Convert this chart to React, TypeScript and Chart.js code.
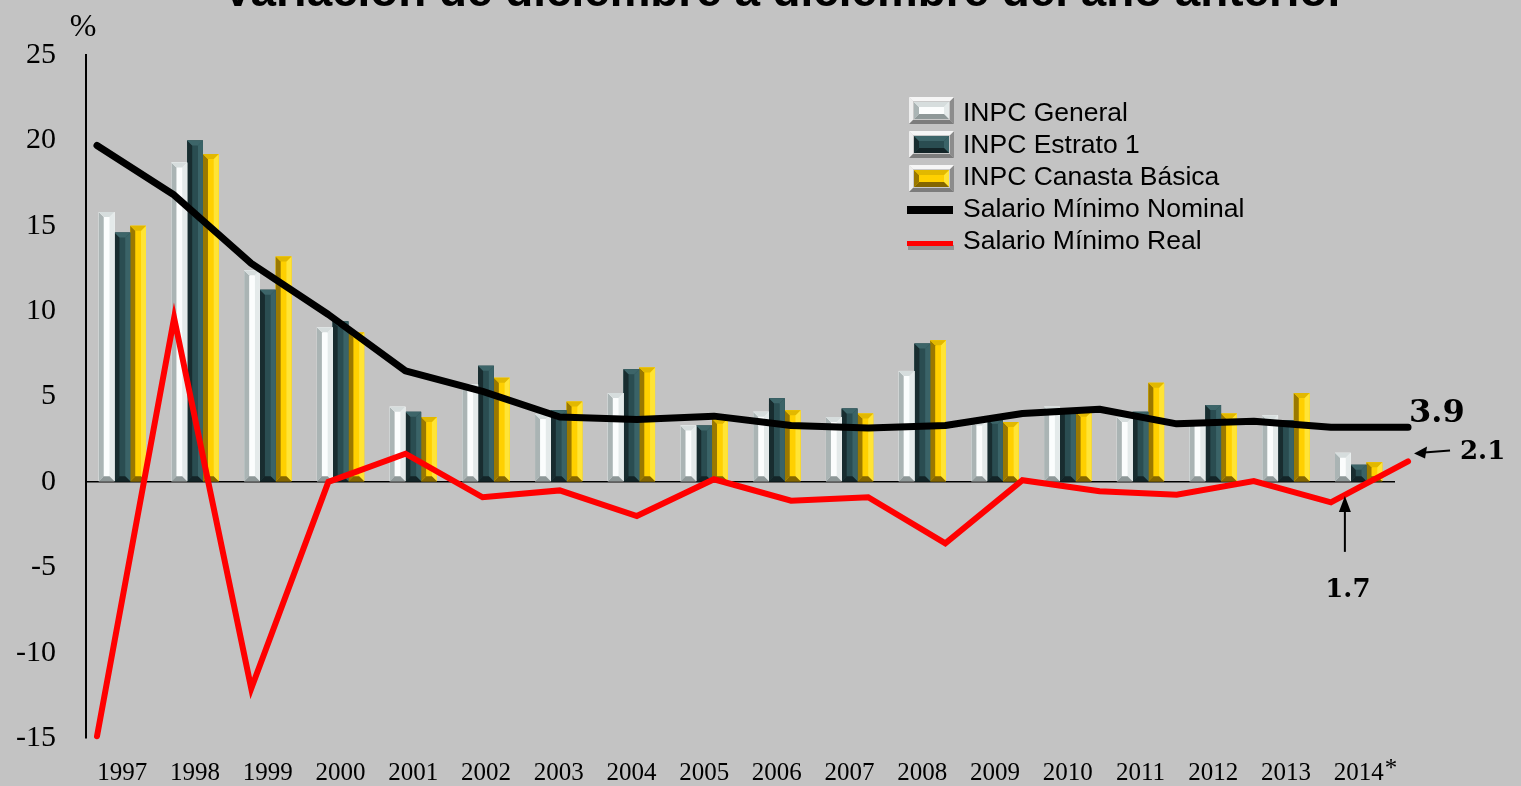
import React, { useEffect, useRef } from "react";
import { Chart, registerables } from "chart.js";

Chart.register(...registerables);

const titleText = "Variación de diciembre a diciembre del año anterior";
const unitLabel = "%";
const categories = ["1997", "1998", "1999", "2000", "2001", "2002", "2003", "2004", "2005", "2006", "2007", "2008", "2009", "2010", "2011", "2012", "2013", "2014"];
const lastLabelMark = "*";
const seriesNames = ["INPC General", "INPC Estrato 1", "INPC Canasta Básica", "Salario Mínimo Nominal", "Salario Mínimo Real"];

const inpcGeneral = [15.8, 18.7, 12.4, 9.05, 4.4, 5.7, 3.98, 5.2, 3.3, 4.1, 3.8, 6.5, 3.6, 4.4, 3.8, 3.6, 3.9, 1.7];
const inpcEstrato1 = [14.6, 20.0, 11.25, 9.4, 4.1, 6.8, 4.2, 6.6, 3.3, 4.9, 4.3, 8.1, 3.7, 4.3, 4.1, 4.5, 3.6, 1.0];
const inpcCanasta = [15.0, 19.2, 13.2, 8.75, 3.8, 6.1, 4.7, 6.7, 3.7, 4.2, 4.0, 8.3, 3.5, 4.1, 5.8, 4.0, 5.2, 1.15];
const salarioNominal = [19.7, 16.8, 12.8, 9.8, 6.5, 5.3, 3.8, 3.65, 3.85, 3.3, 3.15, 3.3, 4.0, 4.25, 3.4, 3.55, 3.2, 3.2];
const salarioReal = [-14.9, 9.6, -12.1, 0.0, 1.65, -0.9, -0.5, -2.0, 0.15, -1.1, -0.9, -3.6, 0.1, -0.55, -0.75, 0.05, -1.2, 1.2];

const yTicks = { min: -15, max: 25, step: 5 };
const annotations = { nominal: "3.9", real: "2.1", general: "1.7" };

const W = 1521, H = 786;
const PAD = { left: 86, top: 55, right: 126, bottom: 48 };
const LINE_X = { min: -0.1426, max: 16.831 };

type Bev = { left: string; top: string; face: string; right: string; bottom: string };
const barStyles: Bev[] = [
  { left: "#aab4b4", top: "#d6dddd", face: "#fbfdfd", right: "#e4eaea", bottom: "#8e9898" },
  { left: "#182c2f", top: "#3d6569", face: "#2a4d51", right: "#3a6367", bottom: "#132427" },
  { left: "#9a7800", top: "#e2b800", face: "#ffd000", right: "#ffe436", bottom: "#846600" },
];
const frameStyle: Bev = { left: "#eeeeee", top: "#f6f6f6", face: "#c9c9c9", right: "#8c8c8c", bottom: "#7c7c7c" };

function bevel(ctx: CanvasRenderingContext2D, l: number, t: number, w: number, h: number, c: Bev, e0: number) {
  if (w <= 0 || h <= 0) return;
  const e = Math.min(e0, w / 2, h / 2);
  const r = l + w, b = t + h;
  const poly = (pts: number[][], col: string) => {
    ctx.beginPath();
    ctx.moveTo(pts[0][0], pts[0][1]);
    for (let i = 1; i < pts.length; i++) ctx.lineTo(pts[i][0], pts[i][1]);
    ctx.closePath();
    ctx.fillStyle = col;
    ctx.fill();
  };
  ctx.fillStyle = c.face;
  ctx.fillRect(l, t, w, h);
  poly([[l, t], [l + e, t + e], [l + e, b - e], [l, b]], c.left);
  poly([[r, t], [r - e, t + e], [r - e, b - e], [r, b]], c.right);
  poly([[l, b], [r, b], [r - e, b - e], [l + e, b - e]], c.bottom);
  poly([[l, t], [r, t], [r - e, t + e], [l + e, t + e]], c.top);
}

const barDecor = {
  id: "barDecor",
  afterDatasetDraw(chart: any, args: any) {
    const meta = args.meta;
    if (meta.type !== "bar") return;
    const style = barStyles[args.index];
    const ctx: CanvasRenderingContext2D = chart.ctx;
    ctx.save();
    meta.data.forEach((el: any) => {
      const p = el.getProps(["x", "y", "base", "width"], true);
      const top = Math.min(p.y, p.base);
      const h = Math.abs(p.base - p.y);
      bevel(ctx, p.x - p.width / 2, top, p.width, h, style, 5);
    });
    ctx.restore();
  },
  afterDraw(chart: any) {
    const ctx: CanvasRenderingContext2D = chart.ctx;
    const area = chart.chartArea;
    const x = chart.scales.x;
    ctx.save();

    // Title (cropped at top of the picture)
    ctx.font = 'bold 46px "Liberation Sans"';
    const w46 = ctx.measureText(titleText).width;
    const size = (46 * 1123) / w46;
    ctx.font = `bold ${size}px "Liberation Sans"`;
    ctx.fillStyle = "#000";
    ctx.textAlign = "center";
    ctx.textBaseline = "alphabetic";
    ctx.fillText(titleText, 784, 6);

    // unit label
    ctx.font = '32px "Liberation Serif"';
    ctx.textAlign = "center";
    ctx.textBaseline = "middle";
    ctx.fillText(unitLabel, area.left - 3, area.top - 27);

    // asterisk on last category label
    const lastX = x.getPixelForValue(categories.length - 1);
    ctx.font = '25px "Liberation Serif"';
    const lw = ctx.measureText(categories[categories.length - 1]).width;
    ctx.textAlign = "left";
    ctx.textBaseline = "top";
    ctx.fillText(lastLabelMark, lastX + lw / 2 + 1, area.bottom + 19);

    // Legend
    const lx = 909, tx = 963;
    const rows = [110, 144, 178, 210, 244];
    for (let i = 0; i < 3; i++) {
      const cy = rows[i];
      bevel(ctx, lx, cy - 13, 45, 27, frameStyle, 4);
      bevel(ctx, lx + 5, cy - 8, 35, 17, barStyles[i], 5);
    }
    ctx.fillStyle = "#000";
    ctx.fillRect(lx - 2, rows[3] - 4, 46, 8);
    ctx.fillStyle = "rgba(0,0,0,0.25)";
    ctx.fillRect(lx - 1, rows[4] + 1, 46, 5);
    ctx.fillStyle = "#ff0000";
    ctx.fillRect(lx - 2, rows[4] - 3, 46, 5);
    ctx.fillStyle = "#000";
    ctx.font = '26.5px "Liberation Sans"';
    ctx.textBaseline = "middle";
    ctx.textAlign = "left";
    const legendRows = [114, 146, 178, 210, 242];
    for (let i = 0; i < 5; i++) {
      ctx.fillText(seriesNames[i], tx, legendRows[i]);
    }
    ctx.restore();
  },
};

function makeLineDecor(getBarChart: () => any) {
  return {
    id: "lineDecor",
    afterDraw(chart: any) {
      const ctx: CanvasRenderingContext2D = chart.ctx;
      const y = chart.scales.y;
      const x = chart.scales.x;
      const n = categories.length - 1;
      const nx = x.getPixelForValue(n);
      const ny = y.getPixelForValue(salarioNominal[n]);
      const ry = y.getPixelForValue(salarioReal[n]);
      const zy = y.getPixelForValue(0);
      ctx.save();
      ctx.fillStyle = "#000";
      ctx.strokeStyle = "#000";
      ctx.font = 'bold 32px "DejaVu Serif"';
      ctx.textAlign = "left";
      ctx.textBaseline = "alphabetic";
      ctx.fillText(annotations.nominal, nx + 1, ny - 5);

      // 2.1 with arrow
      ctx.font = 'bold 26px "DejaVu Serif"';
      ctx.fillText(annotations.real, nx + 52, ry - 2);
      const ax1 = nx + 42, ay1 = ry - 11, ax0 = nx + 6, ay0 = ry - 8;
      ctx.lineWidth = 2;
      ctx.beginPath();
      ctx.moveTo(ax1, ay1);
      ctx.lineTo(ax0 + 10, ay0 - 0.8);
      ctx.stroke();
      ctx.beginPath();
      ctx.moveTo(ax0, ay0);
      ctx.lineTo(ax0 + 13, ay0 - 7);
      ctx.lineTo(ax0 + 11, ay0 + 5);
      ctx.closePath();
      ctx.fill();

      // 1.7 with arrow to INPC General last bar
      const bc = getBarChart();
      if (bc) {
        const gmeta = bc.getDatasetMeta(0);
        const gx = gmeta.data[n].x + 2;
        ctx.beginPath();
        ctx.moveTo(gx, zy + 70);
        ctx.lineTo(gx, zy + 26);
        ctx.stroke();
        ctx.beginPath();
        ctx.moveTo(gx, zy + 14);
        ctx.lineTo(gx - 6, zy + 30);
        ctx.lineTo(gx + 6, zy + 30);
        ctx.closePath();
        ctx.fill();
        ctx.textAlign = "center";
        ctx.fillText(annotations.general, gx + 3, zy + 115);
      }
      ctx.restore();
    },
  };
}

export default function App() {
  const barRef = useRef<HTMLCanvasElement | null>(null);
  const lineRef = useRef<HTMLCanvasElement | null>(null);
  useEffect(() => {
    document.body.style.margin = "0";
    document.body.style.background = "#c3c3c3";
    const bcv = barRef.current;
    const lcv = lineRef.current;
    if (!bcv || !lcv) return;

    const barChart = new Chart(bcv, {
      type: "bar",
      data: {
        labels: categories,
        datasets: [
          { label: seriesNames[0], data: inpcGeneral, backgroundColor: barStyles[0].face, borderWidth: 0 },
          { label: seriesNames[1], data: inpcEstrato1, backgroundColor: barStyles[1].face, borderWidth: 0 },
          { label: seriesNames[2], data: inpcCanasta, backgroundColor: barStyles[2].face, borderWidth: 0 },
        ],
      },
      options: {
        responsive: false,
        animation: false,
        events: [],
        layout: { padding: { left: 0, top: PAD.top, right: PAD.right, bottom: 0 } },
        datasets: { bar: { categoryPercentage: 0.65, barPercentage: 1.0 } },
        plugins: { legend: { display: false }, tooltip: { enabled: false }, title: { display: false } },
        scales: {
          x: {
            type: "category",
            offset: true,
            grid: { display: false, drawTicks: false },
            border: { display: false },
            ticks: { color: "#000", font: { family: "Liberation Serif", size: 25 }, padding: 20, maxRotation: 0, autoSkip: false },
            afterFit: (s: any) => { s.height = PAD.bottom; },
          },
          y: {
            min: yTicks.min,
            max: yTicks.max,
            ticks: { stepSize: yTicks.step, color: "#000", font: { family: "Liberation Serif", size: 30 }, padding: 30 },
            grid: {
              drawTicks: false,
              color: (c: any) => (c.tick && c.tick.value === 0 ? "#000" : "rgba(0,0,0,0)"),
              lineWidth: 1.5,
            },
            border: { display: true, color: "#000", width: 2 },
            afterFit: (s: any) => { s.width = PAD.left; },
          },
        },
      },
      plugins: [barDecor],
    } as any);

    const lineChart = new Chart(lcv, {
      type: "line",
      data: {
        datasets: [
          {
            label: seriesNames[3], data: salarioNominal.map((v, i) => ({ x: i, y: v })),
            borderColor: "#000000", borderWidth: 7, pointRadius: 0, borderCapStyle: "round", borderJoinStyle: "round",
            tension: 0, order: 1, clip: false,
          },
          {
            label: seriesNames[4], data: salarioReal.map((v, i) => ({ x: i, y: v })),
            borderColor: "#ff0000", borderWidth: 6, pointRadius: 0, borderCapStyle: "round", borderJoinStyle: "miter",
            tension: 0, order: 0, clip: false,
          },
        ],
      },
      options: {
        responsive: false,
        animation: false,
        events: [],
        layout: { padding: { left: PAD.left, top: PAD.top, right: PAD.right, bottom: PAD.bottom } },
        plugins: { legend: { display: false }, tooltip: { enabled: false }, title: { display: false } },
        scales: {
          x: { type: "linear", display: false, offset: false, min: LINE_X.min, max: LINE_X.max },
          y: { display: false, min: yTicks.min, max: yTicks.max },
        },
      },
      plugins: [makeLineDecor(() => barChart)],
    } as any);

    return () => {
      lineChart.destroy();
      barChart.destroy();
    };
  }, []);
  return (
    <div style={{ width: W, height: H, background: "#c3c3c3", position: "relative" }}>
      <canvas ref={barRef} width={W} height={H} style={{ display: "block", position: "absolute", left: 0, top: 0 }} />
      <canvas ref={lineRef} width={W} height={H} style={{ display: "block", position: "absolute", left: 0, top: 0 }} />
    </div>
  );
}
